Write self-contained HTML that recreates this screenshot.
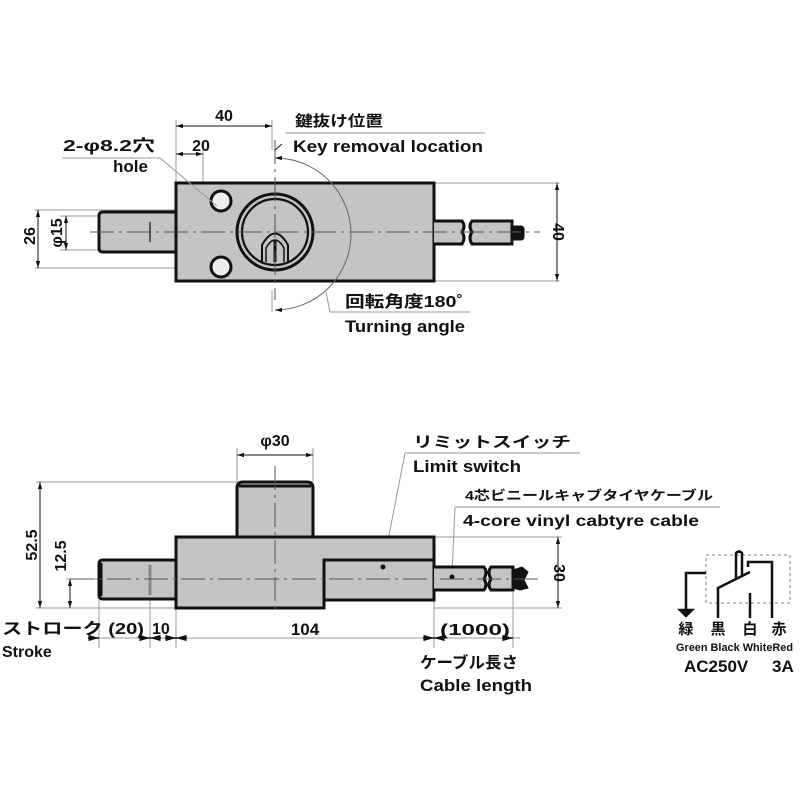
<!DOCTYPE html>
<html><head><meta charset="utf-8"><style>
html,body{margin:0;padding:0;background:#fff;}
svg{display:block;}
text{font-family:"Liberation Sans","Noto Sans CJK JP",sans-serif;font-weight:bold;fill:#111;}
</style></head><body>
<svg width="800" height="800" viewBox="0 0 800 800" xmlns="http://www.w3.org/2000/svg">
<defs>
<marker id="a" viewBox="0 0 10 10" refX="10" refY="5" markerWidth="7" markerHeight="7" orient="auto-start-reverse"><path d="M0,2 L10,5 L0,8 z" fill="#111"/></marker>
</defs>
<g stroke="#111" fill="none">
<g stroke="#999" stroke-width="1">
<line x1="176" y1="120" x2="176" y2="183"/>
<line x1="272" y1="120" x2="272" y2="150"/>
<line x1="203" y1="150" x2="203" y2="200"/>
<line x1="35" y1="210" x2="230" y2="210"/>
<line x1="35" y1="268" x2="230" y2="268"/>
<line x1="60" y1="216" x2="99" y2="216"/>
<line x1="60" y1="250" x2="99" y2="250"/>
<line x1="434" y1="183" x2="560" y2="183"/>
<line x1="434" y1="281" x2="560" y2="281"/>
<line x1="272" y1="290" x2="272" y2="312"/>
</g>
<path d="M176,212 L103,212 Q99,212 99,216 L99,248 Q99,252 103,252 L176,252" fill="#c4c4c4" stroke-width="3"/>
<line x1="150" y1="222" x2="150" y2="242" stroke-width="2" stroke="#555"/>
<rect x="176" y="183" width="258" height="98" fill="#c4c4c4" stroke-width="3"/>
<path d="M434,221 L462,221 Q466,226 462,232 Q466,238 462,244 L434,244" fill="#c4c4c4" stroke-width="3"/>
<path d="M472,221 L512,221 L512,244 L472,244 Q468,238 472,232 Q468,226 472,221z" fill="#c4c4c4" stroke-width="3"/>
<rect x="512" y="226" width="12" height="14" rx="3" fill="#111"/>
<circle cx="221" cy="201" r="10" fill="#eee" stroke-width="3"/>
<circle cx="221" cy="267" r="10" fill="#eee" stroke-width="3"/>
<circle cx="275" cy="232" r="38" fill="#c4c4c4" stroke-width="3"/>
<circle cx="275" cy="232" r="33" fill="#c4c4c4" stroke-width="2.2"/>
<path d="M262,262 L262,245 Q275,222 288,245 L288,262" stroke-width="2"/>
<path d="M266,262 L266,248 Q275,232 284,248 L284,262" stroke-width="1.5"/>
<line x1="275" y1="240" x2="275" y2="262" stroke-width="3"/>
<line x1="90" y1="232" x2="540" y2="232" stroke="#555" stroke-width="1" stroke-dasharray="24,5,3,5"/>
<line x1="275" y1="140" x2="275" y2="300" stroke="#555" stroke-width="1" stroke-dasharray="24,5,3,5"/>
<path d="M275,158 A76,76 0 0 1 275,310" stroke="#666" stroke-width="1" marker-start="url(#a)" marker-end="url(#a)"/>
<line x1="176" y1="126" x2="272" y2="126" stroke-width="1" marker-start="url(#a)" marker-end="url(#a)"/>
<line x1="176" y1="154" x2="203" y2="154" stroke-width="1" marker-start="url(#a)" marker-end="url(#a)"/>
<line x1="38" y1="210" x2="38" y2="268" stroke-width="1" marker-start="url(#a)" marker-end="url(#a)"/>
<line x1="66" y1="216" x2="66" y2="250" stroke-width="1" marker-start="url(#a)" marker-end="url(#a)"/>
<line x1="557" y1="183" x2="557" y2="281" stroke-width="1" marker-start="url(#a)" marker-end="url(#a)"/>
<line x1="275" y1="150" x2="282" y2="144" stroke-width="1"/>
<g stroke="#999" stroke-width="1">
<line x1="285" y1="133" x2="485" y2="133"/>
<line x1="62" y1="158" x2="160" y2="158"/>
<line x1="160" y1="158" x2="217" y2="206"/>
<line x1="330" y1="312" x2="470" y2="312"/>
<line x1="330" y1="312" x2="326" y2="292"/>
</g>

<g stroke="#999" stroke-width="1">
<line x1="237" y1="448" x2="237" y2="482"/>
<line x1="313" y1="448" x2="313" y2="482"/>
<line x1="36" y1="482" x2="237" y2="482"/>
<line x1="36" y1="608" x2="176" y2="608"/>
<line x1="66" y1="579" x2="99" y2="579"/>
<line x1="434" y1="537" x2="562" y2="537"/>
<line x1="434" y1="608" x2="562" y2="608"/>
<line x1="99" y1="600" x2="99" y2="648"/>
<line x1="150" y1="600" x2="150" y2="648"/>
<line x1="176" y1="608" x2="176" y2="648"/>
<line x1="434" y1="600" x2="434" y2="648"/>
<line x1="513" y1="592" x2="513" y2="648"/>
<line x1="405" y1="453" x2="580" y2="453"/>
<line x1="405" y1="453" x2="383" y2="566"/>
<line x1="455" y1="507" x2="720" y2="507"/>
<line x1="455" y1="507" x2="452" y2="575"/>
</g>
<path d="M237,537 L237,488 Q237,482 243,482 L307,482 Q313,482 313,488 L313,537" fill="#c4c4c4" stroke-width="3"/>
<line x1="239" y1="486" x2="311" y2="486" stroke-width="3"/>
<path d="M176,560 L103,560 Q99,560 99,564 L99,595 Q99,599 103,599 L176,599" fill="#c4c4c4" stroke-width="3"/>
<line x1="101" y1="563" x2="101" y2="596" stroke-width="3"/>
<line x1="150" y1="565" x2="150" y2="595" stroke-width="3" stroke="#888"/>
<path d="M176,537 L434,537 L434,600 L324,600 L324,608 L176,608 Z" fill="#c4c4c4" stroke-width="3"/>
<path d="M324,600 L324,560 L434,560" stroke-width="3"/>
<path d="M434,567 L484,567 Q488,572 484,579 Q488,585 484,590 L434,590" fill="#c4c4c4" stroke-width="3"/>
<path d="M491,567 L513,567 L513,590 L491,590 Q487,585 491,579 Q487,572 491,567z" fill="#c4c4c4" stroke-width="3"/>
<path d="M513,570 L522,567 L528,572 L524,580 L528,588 L520,590 L513,588z" fill="#111"/>
<circle cx="383" cy="567" r="2" fill="#111"/>
<circle cx="452" cy="577" r="2" fill="#111"/>
<line x1="70" y1="579" x2="540" y2="579" stroke="#555" stroke-width="1" stroke-dasharray="24,5,3,5"/>
<line x1="275" y1="466" x2="275" y2="612" stroke="#555" stroke-width="1" stroke-dasharray="24,5,3,5"/>
<line x1="237" y1="455" x2="313" y2="455" stroke-width="1" marker-start="url(#a)" marker-end="url(#a)"/>
<line x1="40" y1="482" x2="40" y2="608" stroke-width="1" marker-start="url(#a)" marker-end="url(#a)"/>
<line x1="70" y1="579" x2="70" y2="608" stroke-width="1" marker-start="url(#a)" marker-end="url(#a)"/>
<line x1="558" y1="537" x2="558" y2="608" stroke-width="1" marker-start="url(#a)" marker-end="url(#a)"/>
<line x1="99" y1="638" x2="520" y2="638" stroke="#999" stroke-width="1"/>
<line x1="88" y1="638" x2="99" y2="638" stroke-width="1.5" marker-end="url(#a)"/>
<line x1="139" y1="638" x2="150" y2="638" stroke-width="1.5" marker-end="url(#a)"/>
<line x1="161" y1="638" x2="150" y2="638" stroke-width="1.5" marker-end="url(#a)"/>
<line x1="165" y1="638" x2="176" y2="638" stroke-width="1.5" marker-end="url(#a)"/>
<line x1="187" y1="638" x2="176" y2="638" stroke-width="1.5" marker-end="url(#a)"/>
<line x1="423" y1="638" x2="434" y2="638" stroke-width="1.5" marker-end="url(#a)"/>
<line x1="445" y1="638" x2="434" y2="638" stroke-width="1.5" marker-end="url(#a)"/>
<line x1="502" y1="638" x2="513" y2="638" stroke-width="1.5" marker-end="url(#a)"/>

<rect x="706" y="555" width="84" height="48" stroke="#aaa" stroke-width="1.5" stroke-dasharray="3,3"/>
<g stroke-width="2.5">
<path d="M706,573 L686,573 L686,610"/>
<path d="M680,610 L692,610 L686,616z" fill="#111"/>
<path d="M718,618 L718,588 L750,572"/>
<path d="M736,578 L736,553 Q739,550 742,553 L742,576"/>
<path d="M748,567 L748,562 L772,562 L772,618"/>
<path d="M750,593 L750,618"/>
</g>
</g>

<text x="224" y="121" font-size="16" text-anchor="middle">40</text>
<text x="201" y="151" font-size="16" text-anchor="middle">20</text>
<text x="295" y="126" font-size="15" textLength="88" lengthAdjust="spacingAndGlyphs">鍵抜け位置</text>
<text x="293" y="152" font-size="17" textLength="190" lengthAdjust="spacingAndGlyphs">Key removal location</text>
<text x="63" y="151" font-size="16" textLength="92" lengthAdjust="spacingAndGlyphs">2-φ8.2穴</text>
<text x="113" y="172" font-size="17">hole</text>
<text x="345" y="307" font-size="16" textLength="118" lengthAdjust="spacingAndGlyphs">回転角度180˚</text>
<text x="345" y="332" font-size="17" textLength="120" lengthAdjust="spacingAndGlyphs">Turning angle</text>
<text font-size="16" transform="translate(35,236) rotate(-90)" text-anchor="middle">26</text>
<text font-size="16" transform="translate(62,233) rotate(-90)" text-anchor="middle">φ15</text>
<text font-size="16" transform="translate(553,232) rotate(90)" text-anchor="middle">40</text>

<text x="275" y="446" font-size="16" text-anchor="middle">φ30</text>
<text x="413" y="447" font-size="15" textLength="158" lengthAdjust="spacingAndGlyphs">リミットスイッチ</text>
<text x="413" y="472" font-size="17" textLength="108" lengthAdjust="spacingAndGlyphs">Limit switch</text>
<text x="465" y="500" font-size="13" textLength="248" lengthAdjust="spacingAndGlyphs">4芯ビニールキャブタイヤケーブル</text>
<text x="463" y="526" font-size="16" textLength="236" lengthAdjust="spacingAndGlyphs">4-core vinyl cabtyre cable</text>
<text font-size="16" transform="translate(37,545) rotate(-90)" text-anchor="middle">52.5</text>
<text font-size="16" transform="translate(66,556) rotate(-90)" text-anchor="middle">12.5</text>
<text font-size="16" transform="translate(554,573) rotate(90)" text-anchor="middle">30</text>
<text x="2" y="634" font-size="16" textLength="142" lengthAdjust="spacingAndGlyphs">ストローク (20)</text>
<text x="152" y="634" font-size="16">10</text>
<text x="305" y="635" font-size="17" text-anchor="middle">104</text>
<text x="440" y="635" font-size="16" textLength="70" lengthAdjust="spacingAndGlyphs">(1000)</text>
<text x="2" y="657" font-size="16">Stroke</text>
<text x="420" y="668" font-size="16" textLength="98" lengthAdjust="spacingAndGlyphs">ケーブル長さ</text>
<text x="420" y="691" font-size="17" textLength="112" lengthAdjust="spacingAndGlyphs">Cable length</text>

<text x="686" y="634" font-size="15" text-anchor="middle">緑</text>
<text x="718" y="634" font-size="15" text-anchor="middle">黒</text>
<text x="750" y="634" font-size="15" text-anchor="middle">白</text>
<text x="779" y="634" font-size="15" text-anchor="middle">赤</text>
<text x="676" y="651" font-size="11" textLength="117" lengthAdjust="spacingAndGlyphs" font-weight="normal">Green Black WhiteRed</text>
<text x="684" y="672" font-size="17">AC250V</text>
<text x="772" y="672" font-size="17">3A</text>
</svg>
</body></html>
